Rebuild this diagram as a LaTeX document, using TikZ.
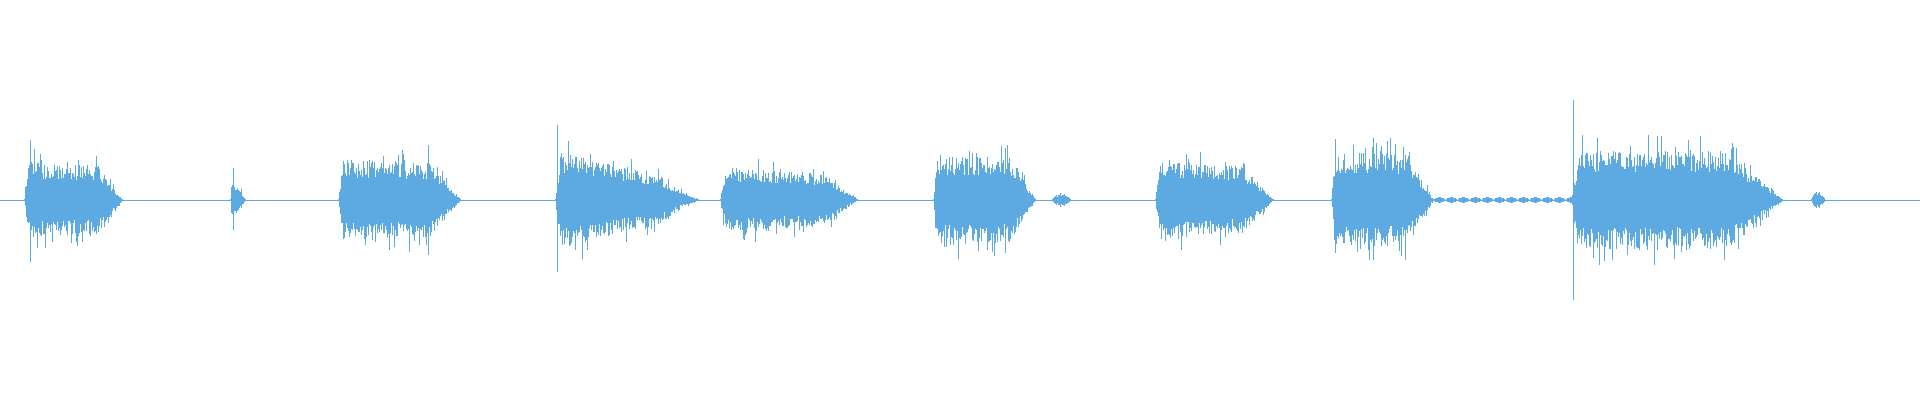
\documentclass[tikz,border=0pt]{standalone}
\definecolor{wave}{RGB}{93,170,226}
\begin{document}
\begin{tikzpicture}[x=1pt,y=1pt,wv/.style={wave,line width=0.7pt}]
\useasboundingbox (0,0) rectangle (1920,400);
\pgfmathsetseed{7}
\draw[wave,line width=0.5pt] (0,200) -- (1920,200);
% segments: start/end/amplitude/decay
\foreach \a/\b/\amp/\dec in {24/122/38/0.15, 230/245/22/0.9, 338/460/40/0.1, 555/698/50/0.75, 720/857/33/0.3, 933/1035/45/0.1, 1155/1273/40/0.25, 1331/1433/48/0.1, 1571/1782/50/0.05}{
  \foreach \x in {\a,...,\b}{
    \pgfmathsetmacro{\t}{(\x-\a)/(\b-\a)}
    \pgfmathsetmacro{\env}{\amp*min(1,\t*25)*(1-\dec*\t)*min(1,(1-\t)*4)+1}
    \pgfmathsetmacro{\h}{\env*(0.55+0.45*rnd+0.35*(rnd>0.9))}
    \pgfmathsetmacro{\g}{\env*(0.55+0.45*rnd+0.35*(rnd>0.9))}
    \draw[wv] (\x,200-\h) -- (\x,200+\g);
  }
}
% spikes
\draw[wv] (30,138) -- (30,260);
\draw[wv] (233,170) -- (233,232);
\draw[wv] (557,128) -- (557,275);
\draw[wv] (1573,100) -- (1573,300);
\draw[wv] (1373,140) -- (1373,262);
\draw[wv] (428,145) -- (428,255);
% small blobs
\foreach \x in {1051,...,1071}{
  \pgfmathsetmacro{\h}{7*sin(180*(\x-1051)/20)*(0.6+0.4*rnd)}
  \draw[wv] (\x,200-\h) -- (\x,200+\h);
}
\foreach \x in {1810,...,1825}{
  \pgfmathsetmacro{\h}{9*sin(180*(\x-1810)/15)*(0.5+0.5*rnd)}
  \draw[wv] (\x,200-\h) -- (\x,200+\h);
}
% ripple
\foreach \x in {1433,...,1571}{
  \pgfmathsetmacro{\h}{0.5+2.2*abs(sin(mod(\x-1433,12)*180/12))}
  \draw[wv,line width=0.5pt] (\x,200-\h) -- (\x,200+\h);
}
\end{tikzpicture}
\end{document}
